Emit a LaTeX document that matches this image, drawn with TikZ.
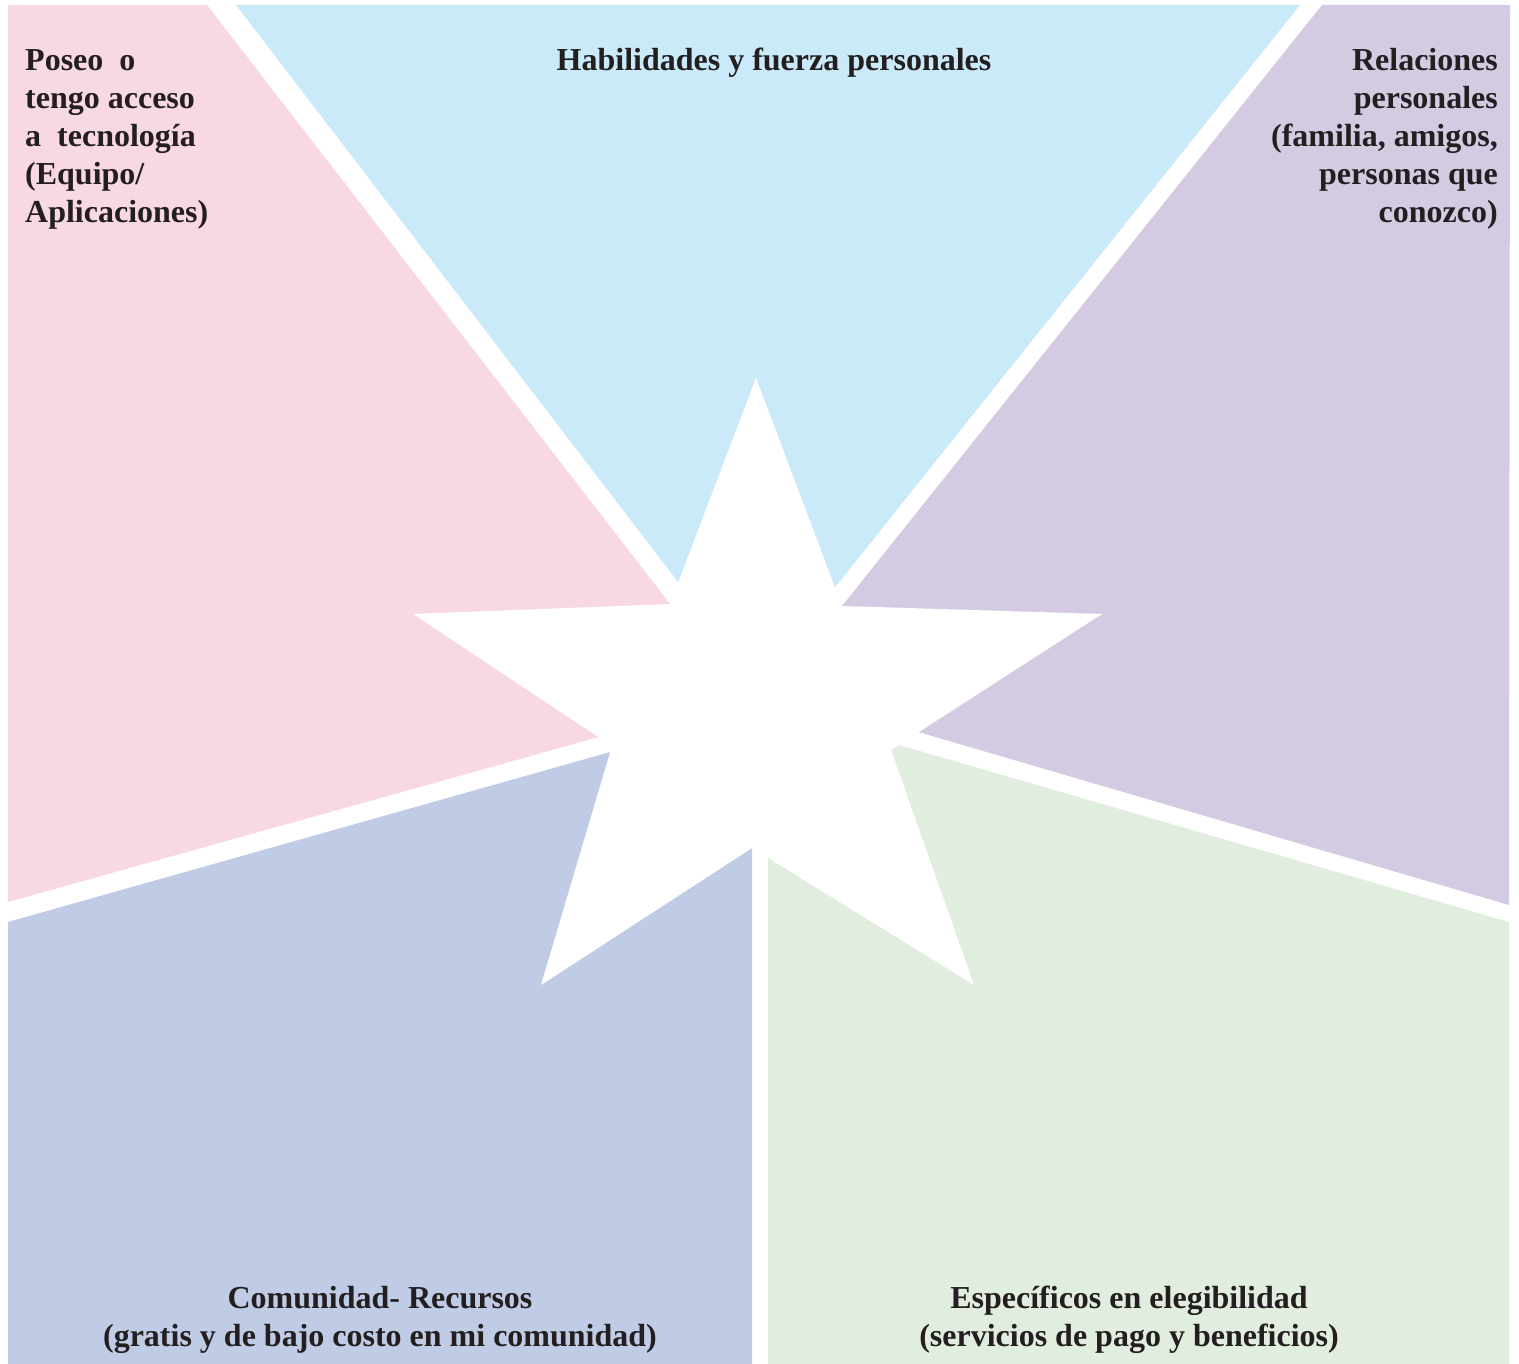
\documentclass[tikz,border=0pt]{standalone}
\usepackage{fontspec}
\setmainfont{Liberation Serif}
\definecolor{cpink}{RGB}{249,216,229}
\definecolor{cblue}{RGB}{202,234,250}
\definecolor{cpurple}{RGB}{212,203,226}
\definecolor{clav}{RGB}{192,203,229}
\definecolor{cgreen}{RGB}{225,237,222}
\definecolor{ctext}{RGB}{35,31,32}
\begin{document}
\begin{tikzpicture}[x=1pt,y=-1pt,
  lbl/.style={inner sep=0pt, text=ctext, font=\fontsize{32}{38}\selectfont\bfseries}]
\useasboundingbox (0,0) rectangle (1519,1364);
\fill[white] (0,0) rectangle (1519,1364);
% regions
\fill[cpink] (8,5) -- (207,5) -- (742,697) -- (8,902) -- cycle;
\fill[cblue] (236,5) -- (1300,5) -- (757,685) -- cycle;
\fill[cpurple] (1322,5) -- (1510,5) -- (1509,905) -- (775,690) -- cycle;
\fill[clav] (8,922) -- (752,712) -- (752,1364) -- (8,1364) -- cycle;
\fill[cgreen] (768,707) -- (1509,922) -- (1509,1364) -- (768,1364) -- cycle;
% star
\fill[white] (756,378) -- (670,604) -- (413,614) -- (612,746) -- (541,985) -- (752,848) -- (974,985) -- (891,750) -- (1102,614) -- (842,606) -- cycle;
% labels (base anchor = baseline of the last line)
\node[lbl, anchor=base west, align=left] (tech) at (25,223)
  {Poseo\ \ o\\tengo acceso\\a\ \ tecnología\\(Equipo/\\Aplicaciones)};
\node[lbl, anchor=base] (skills) at (774,71) {Habilidades y fuerza personales};
\node[lbl, anchor=base east, align=right] (rel) at (1498,223)
  {Relaciones\\personales\\(familia, amigos,\\personas que\\conozco)};
\node[lbl, anchor=base, align=center] (com) at (380,1346)
  {Comunidad- Recursos\\(gratis y de bajo costo en mi comunidad)};
\node[lbl, anchor=base, align=center] (esp) at (1129,1346)
  {Específicos en elegibilidad\\(servicios de pago y beneficios)};
\end{tikzpicture}
\end{document}
